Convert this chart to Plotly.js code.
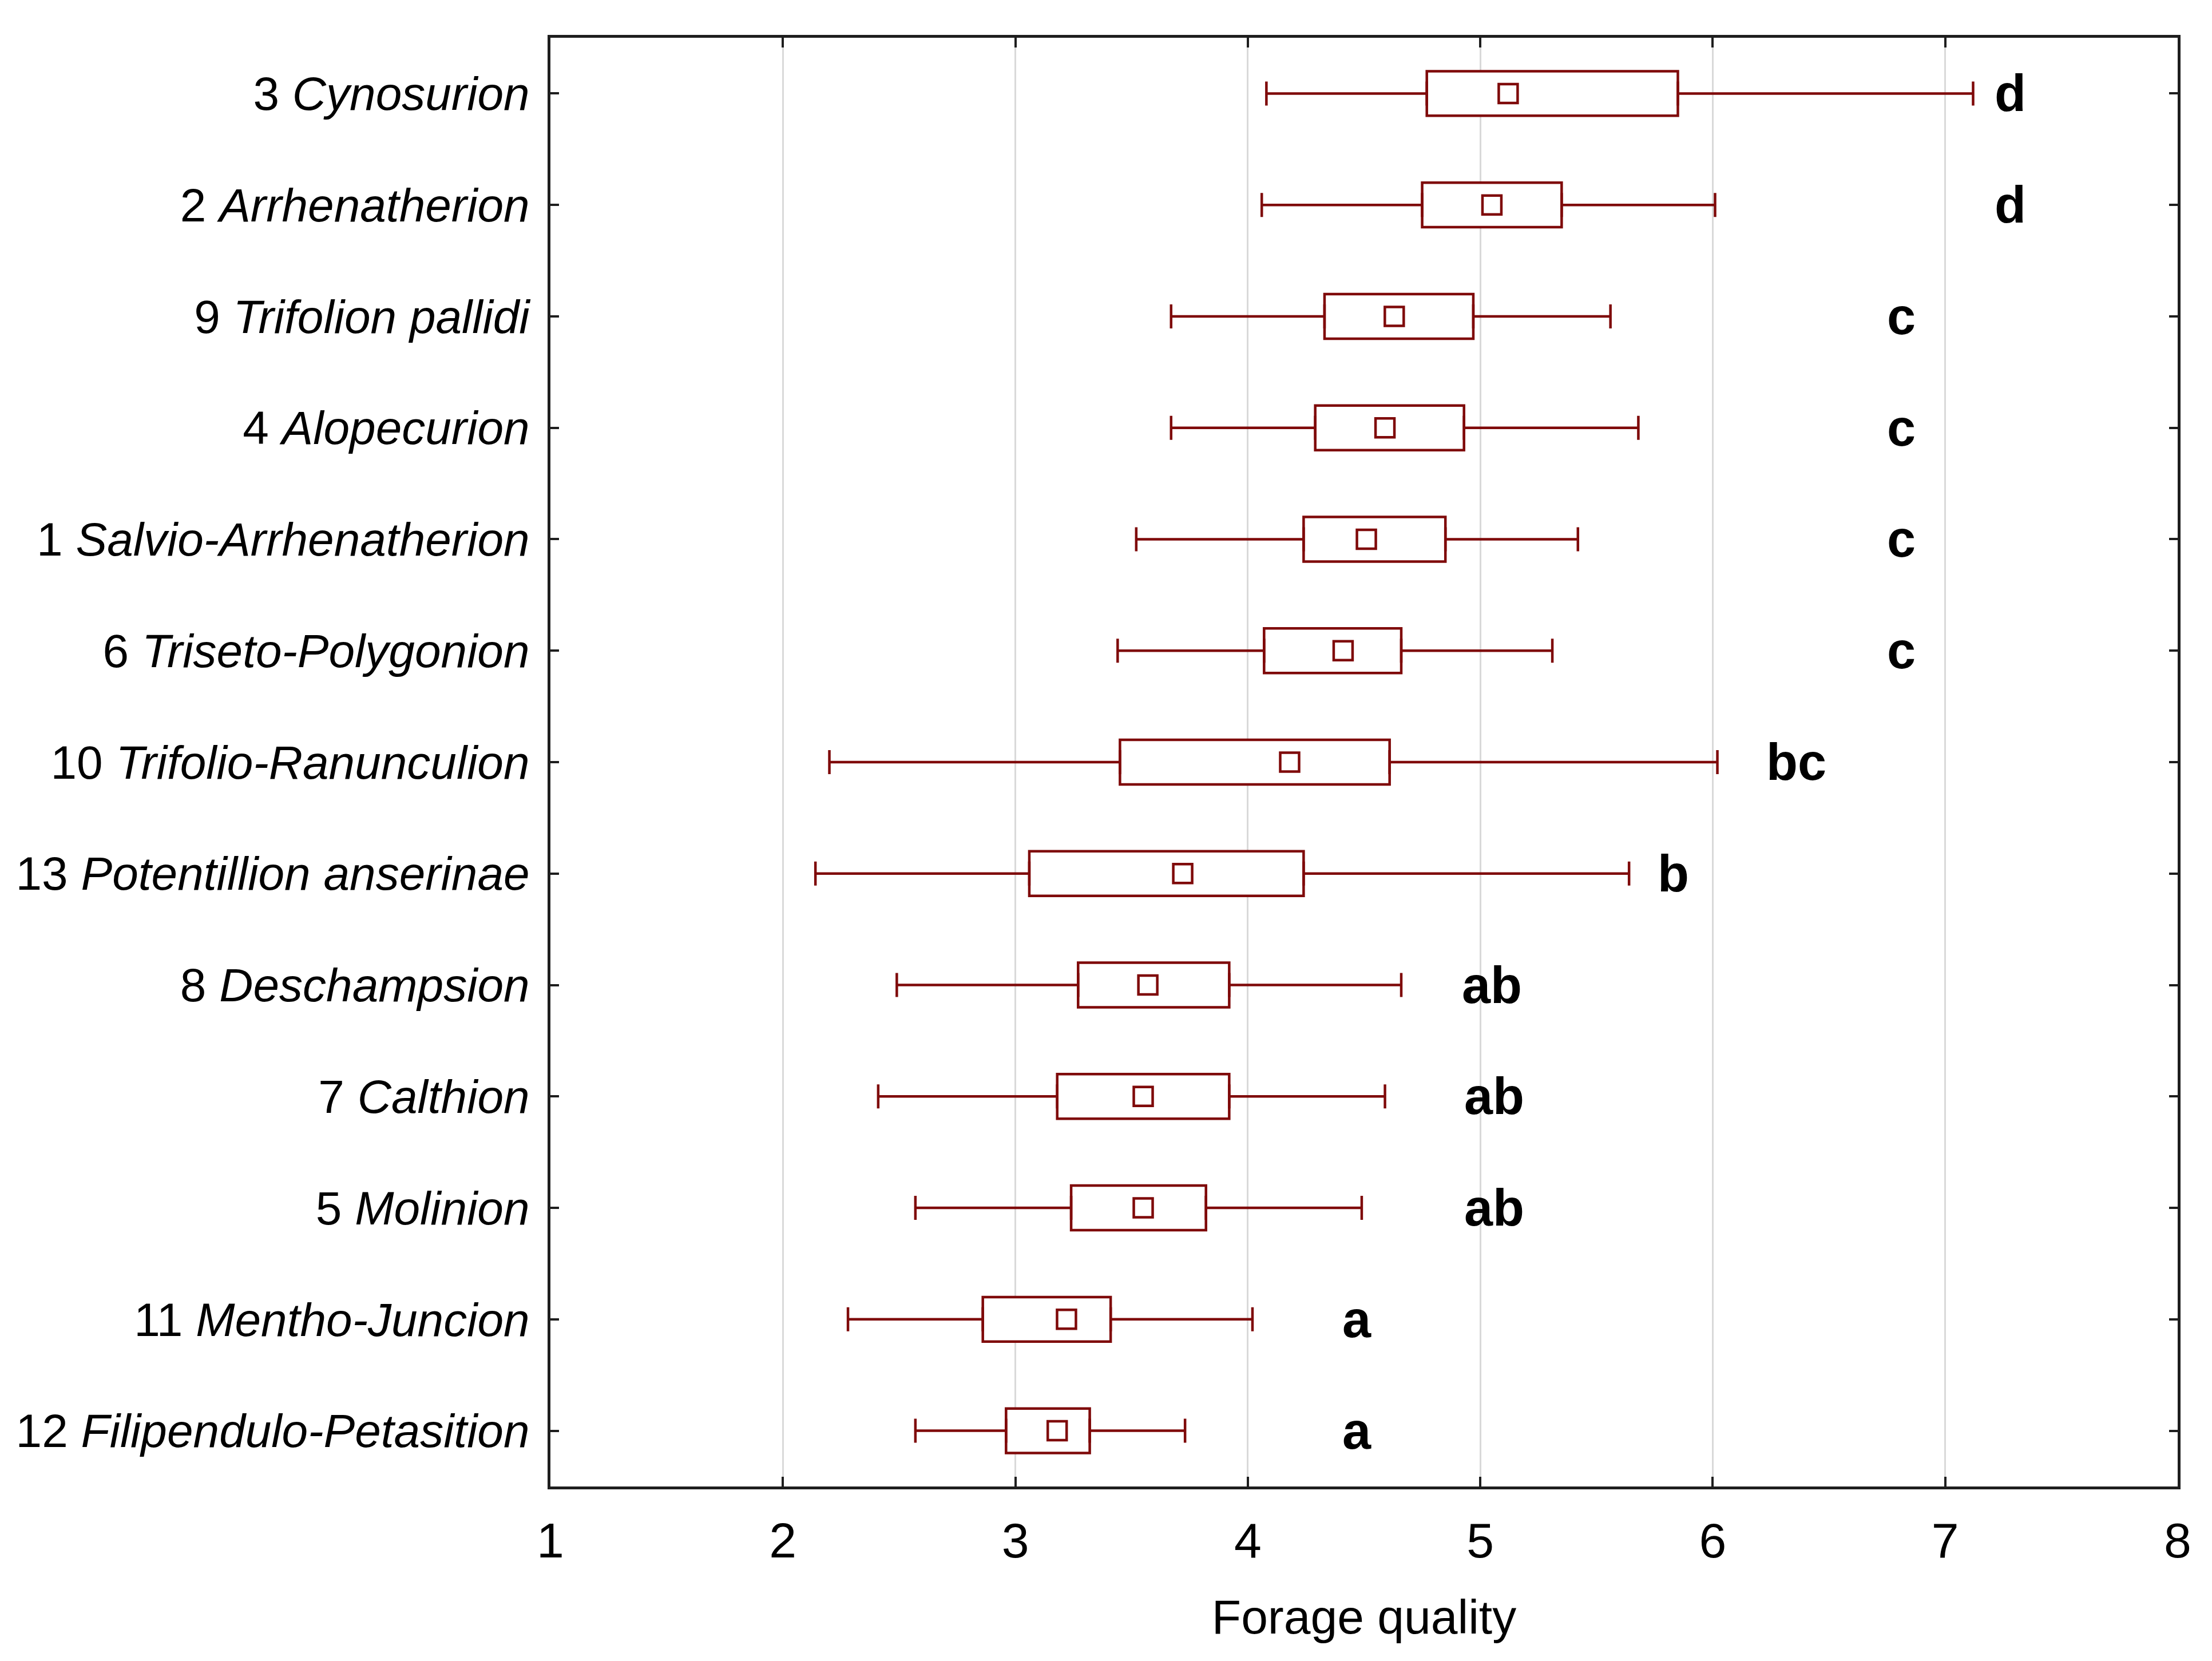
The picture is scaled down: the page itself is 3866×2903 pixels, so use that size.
<!DOCTYPE html>
<html>
<head>
<meta charset="utf-8">
<script src="https://cdn.plot.ly/plotly-3.0.1.min.js"></script>
<style>html,body{margin:0;padding:0;background:#fff;}#chart{width:3866px;height:2903px;}</style>
</head>
<body>
<div id="chart"></div>
<script>
// Data (top to bottom as in the figure)
const groupNumbers = ["3", "2", "9", "4", "1", "6", "10", "13", "8", "7", "5", "11", "12"];
const groupNames = ["Cynosurion", "Arrhenatherion", "Trifolion pallidi", "Alopecurion", "Salvio-Arrhenatherion",
  "Triseto-Polygonion", "Trifolio-Ranunculion", "Potentillion anserinae", "Deschampsion", "Calthion",
  "Molinion", "Mentho-Juncion", "Filipendulo-Petasition"];
const whiskerLow  = [4.08, 4.06, 3.67, 3.67, 3.52, 3.44, 2.20, 2.14, 2.49, 2.41, 2.57, 2.28, 2.57];
const boxLow      = [4.77, 4.75, 4.33, 4.29, 4.24, 4.07, 3.45, 3.06, 3.27, 3.18, 3.24, 2.86, 2.96];
const meanValue   = [5.12, 5.05, 4.63, 4.59, 4.51, 4.41, 4.18, 3.72, 3.57, 3.55, 3.55, 3.22, 3.18];
const boxHigh     = [5.85, 5.35, 4.97, 4.93, 4.85, 4.66, 4.61, 4.24, 3.92, 3.92, 3.82, 3.41, 3.32];
const whiskerHigh = [7.12, 6.01, 5.56, 5.68, 5.42, 5.31, 6.02, 5.64, 4.66, 4.59, 4.49, 4.02, 3.73];
const groupLetters = ["d", "d", "c", "c", "c", "c", "bc", "b", "ab", "ab", "ab", "a", "a"];
const letterX     = [7.28, 7.28, 6.81, 6.81, 6.81, 6.81, 6.36, 5.83, 5.05, 5.06, 5.06, 4.47, 4.47];
const xTickValues = [1, 2, 3, 4, 5, 6, 7, 8];

const RED = '#7f0a0a';
const AXIS = '#1e1e1e';
const FONT = '"Liberation Sans", Arial, Helvetica, sans-serif';

const cats = groupNames;
const tickText = groupNumbers.map((n, i) => n + ' <i>' + groupNames[i] + '</i>');

const boxTrace = {
  type: 'bar', orientation: 'h',
  y: cats,
  base: boxLow,
  x: boxHigh.map((v, i) => v - boxLow[i]),
  width: 0.4,
  marker: {color: '#ffffff', line: {color: RED, width: 4.5}},
  hoverinfo: 'skip', showlegend: false
};
const lowWhisker = {
  type: 'scatter', mode: 'markers',
  y: cats, x: boxLow,
  marker: {size: 1, opacity: 0},
  error_x: {type: 'data', symmetric: false,
    array: boxLow.map(() => 0),
    arrayminus: boxLow.map((v, i) => v - whiskerLow[i]),
    color: RED, thickness: 4.5, width: 21},
  hoverinfo: 'skip', showlegend: false
};
const highWhisker = {
  type: 'scatter', mode: 'markers',
  y: cats, x: boxHigh,
  marker: {size: 1, opacity: 0},
  error_x: {type: 'data', symmetric: false,
    array: boxHigh.map((v, i) => whiskerHigh[i] - v),
    arrayminus: boxHigh.map(() => 0),
    color: RED, thickness: 4.5, width: 21},
  hoverinfo: 'skip', showlegend: false
};
const meanTrace = {
  type: 'scatter', mode: 'markers',
  y: cats, x: meanValue,
  marker: {symbol: 'square-open', size: 33, color: RED, line: {color: RED, width: 4.5}},
  showlegend: false
};

const annotations = groupLetters.map((t, i) => ({
  x: letterX[i], y: cats[i], xref: 'x', yref: 'y',
  text: '<b>' + t + '</b>', showarrow: false,
  xanchor: 'center', yanchor: 'middle',
  font: {family: FONT, size: 90, color: '#000'}
}));

const layout = {
  width: 3866, height: 2903,
  margin: {l: 962, r: 60, t: 66, b: 305},
  paper_bgcolor: '#ffffff', plot_bgcolor: '#ffffff',
  font: {family: FONT, size: 84, color: '#000'},
  bargap: 0,
  xaxis: {
    range: [1, 8], tickvals: xTickValues, ticktext: xTickValues.map(String),
    showgrid: true, gridcolor: '#d9d9d9', gridwidth: 3, zeroline: false,
    showline: true, linecolor: AXIS, linewidth: 5, mirror: 'ticks',
    ticks: 'inside', ticklen: 17, tickwidth: 4, tickcolor: AXIS,
    tickfont: {family: FONT, size: 86, color: '#000'},
    ticklabelstandoff: 16,
    title: {text: 'Forage quality', font: {family: FONT, size: 84, color: '#000'}, standoff: 58},
    fixedrange: true
  },
  yaxis: {
    type: 'category', categoryorder: 'array', categoryarray: cats,
    range: [12.5, -0.5], autorange: false,
    tickvals: cats, ticktext: tickText,
    showgrid: false, zeroline: false,
    showline: true, linecolor: AXIS, linewidth: 5, mirror: 'ticks',
    ticks: 'inside', ticklen: 15, tickwidth: 4, tickcolor: AXIS,
    tickfont: {family: FONT, size: 82, color: '#000'},
    ticklabelstandoff: 15,
    fixedrange: true
  },
  annotations: annotations,
  showlegend: false
};

Plotly.newPlot('chart', [boxTrace, lowWhisker, highWhisker, meanTrace], layout, {displayModeBar: false, staticPlot: true});
</script>
</body>
</html>
